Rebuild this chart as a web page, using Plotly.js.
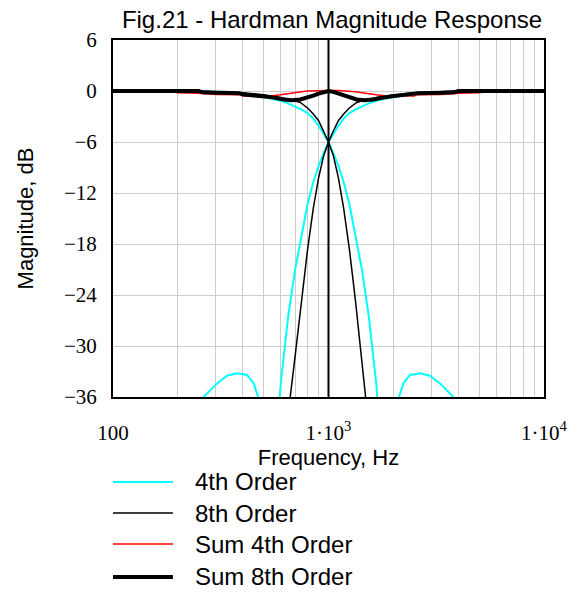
<!DOCTYPE html>
<html>
<head>
<meta charset="utf-8">
<script src="https://cdn.plot.ly/plotly-3.0.1.min.js"></script>
<style>html,body{margin:0;padding:0;background:#fff;}#chart{width:577px;height:592px;}</style>
</head>
<body>
<div id="chart"></div>
<script>
// ---- Data ----
const seriesNames = ["4th Order", "8th Order", "Sum 4th Order", "Sum 8th Order"];

// 4th order low-pass (cyan)
const lp4Freq = [100, 200, 300, 400, 500, 600, 650, 700, 750, 800, 850, 900, 950, 1000, 1053, 1111, 1176, 1250, 1333, 1429, 1538, 1667, 1786, 1923, 2050, 2125, 2224, 2389, 2659, 2959, 3291, 3600, 3796, 4000, 4500, 10000];
const lp4Db   = [0, 0, -0.15, -0.35, -0.7, -1.15, -1.45, -1.8, -2.2, -2.6, -3.25, -4.1, -5.1, -6.0, -7.3, -8.8, -10.7, -13.3, -17.0, -21.0, -26.5, -34.5, -45, -50, -42, -36, -34.4, -33.4, -33.2, -33.5, -34.4, -35.4, -36, -40, -50, -60];
// 4th order high-pass (cyan)
const hp4Freq = [100, 222, 250, 263, 278, 304, 338, 376, 419, 450, 471, 488, 520, 560, 600, 650, 700, 750, 800, 850, 900, 950, 1000, 1053, 1111, 1176, 1250, 1333, 1429, 1538, 1667, 2000, 2500, 3333, 5000, 10000];
const hp4Db   = [-60, -50, -40, -36, -35.4, -34.4, -33.5, -33.2, -33.4, -34.4, -36, -42, -50, -45, -34.5, -26.5, -21.0, -17.0, -13.3, -10.7, -8.8, -7.3, -6.0, -5.1, -4.1, -3.25, -2.6, -2.2, -1.8, -1.45, -1.15, -0.7, -0.35, -0.15, 0, 0];

// 8th order low-pass (black thin)
const lp8Freq = [100, 250, 300, 400, 500, 600, 680, 740, 800, 850, 900, 950, 1000, 1053, 1111, 1176, 1250, 1333, 1429, 1538, 1667, 2000, 10000];
const lp8Db   = [0, 0, -0.1, -0.2, -0.45, -0.75, -1.05, -1.35, -2.0, -2.7, -3.5, -4.7, -6.0, -7.6, -10.2, -13.8, -18.6, -24.6, -31.2, -38.0, -48, -60, -80];
// 8th order high-pass (black thin)
const hp8Freq = [100, 500, 600, 650, 700, 750, 800, 850, 900, 950, 1000, 1053, 1111, 1176, 1250, 1351, 1471, 1667, 2000, 2500, 3333, 4000, 10000];
const hp8Db   = [-80, -60, -48, -38.0, -31.2, -24.6, -18.6, -13.8, -10.2, -7.6, -6.0, -4.7, -3.5, -2.7, -2.0, -1.35, -1.05, -0.75, -0.45, -0.2, -0.1, 0, 0];

// Sum of 4th order (red)
const sum4Freq = [100, 180, 200, 250, 300, 390, 400, 480, 550, 600, 650, 700, 750, 800, 900, 1000, 1111, 1250, 1333, 1429, 1538, 1667, 1818, 2083, 2500, 2564, 3333, 4000, 5000, 5556, 10000];
const sum4Db   = [0, 0, -0.2, -0.25, -0.4, -0.45, -0.6, -0.6, -0.55, -0.45, -0.35, -0.2, -0.1, 0, 0.05, 0.05, 0.05, 0, -0.1, -0.2, -0.35, -0.45, -0.55, -0.6, -0.6, -0.45, -0.4, -0.25, -0.2, 0, 0];

// Sum of 8th order (black thick)
const sum8Freq = [100, 250, 260, 300, 385, 400, 480, 550, 620, 680, 740, 800, 850, 900, 950, 1000, 1053, 1111, 1176, 1250, 1351, 1471, 1613, 1818, 2083, 2500, 2597, 3333, 3846, 4000, 10000];
const sum8Db   = [0, 0, -0.15, -0.2, -0.25, -0.4, -0.55, -0.75, -1.0, -1.1, -1.0, -0.8, -0.55, -0.3, -0.1, 0, -0.1, -0.3, -0.55, -0.8, -1.0, -1.1, -1.0, -0.75, -0.55, -0.4, -0.25, -0.2, -0.15, 0, 0];

const markerFreq = 1000;

// Axis ticks
const xTickVals = [100, 1000, 10000];
const xTickText = ["100", "1·10<sup>3</sup>", "1·10<sup>4</sup>"];
const xMinorVals = [200, 300, 400, 500, 600, 700, 800, 900, 2000, 3000, 4000, 5000, 6000, 7000, 8000, 9000];
const yTickVals = [6, 0, -6, -12, -18, -24, -30, -36];
const yTickText = ["6", "0", "−6", "−12", "−18", "−24", "−30", "−36"];

// ---- Styles ----
const cyan = "#00ffff", red = "#ff0000", black = "#000000";
const styles = [
  {color: cyan, width: 2},
  {color: black, width: 1.5},
  {color: red, width: 1.5},
  {color: black, width: 4}
];

const traces = [
  {x: lp4Freq, y: lp4Db, line: styles[0]},
  {x: hp4Freq, y: hp4Db, line: styles[0]},
  {x: lp8Freq, y: lp8Db, line: styles[1]},
  {x: hp8Freq, y: hp8Db, line: styles[1]},
  {x: sum4Freq, y: sum4Db, line: styles[2]},
  {x: sum8Freq, y: sum8Db, line: styles[3]}
].map(t => Object.assign(t, {type: "scatter", mode: "lines", showlegend: false, hoverinfo: "skip", cliponaxis: true}));

// Custom legend (layout elements in paper coordinates)
const legendRowsY = [-0.238, -0.325, -0.412, -0.504];
const shapes = [
  {type: "line", xref: "x", yref: "paper", x0: markerFreq, x1: markerFreq, y0: 0, y1: 1,
   line: {color: black, width: 2}, layer: "above"}
];
const annotations = [];
seriesNames.forEach((name, i) => {
  shapes.push({type: "line", xref: "paper", yref: "paper", x0: 0, x1: 0.139,
    y0: legendRowsY[i], y1: legendRowsY[i], line: styles[i]});
  annotations.push({xref: "paper", yref: "paper", x: 0.186, y: legendRowsY[i], xanchor: "left", yanchor: "middle",
    text: name, showarrow: false, font: {family: "Liberation Sans, Arial, sans-serif", size: 24, color: black}});
});

const layout = {
  width: 577, height: 592,
  margin: {l: 113, r: 33, t: 40, b: 195},
  paper_bgcolor: "#ffffff", plot_bgcolor: "#ffffff",
  title: {text: "Fig.21 - Hardman Magnitude Response", x: 332/577, xanchor: "center", y: 1 - 20/592, yanchor: "middle",
          font: {family: "Liberation Sans, Arial, sans-serif", size: 24, color: black}},
  xaxis: {
    type: "log", range: [2, 4], tickmode: "array", tickvals: xTickVals, ticktext: xTickText, tickangle: 0,
    showgrid: true, gridcolor: "#cccccc", gridwidth: 1, zeroline: false,
    minor: {tickmode: "array", tickvals: xMinorVals, showgrid: true, gridcolor: "#cccccc", gridwidth: 1, ticks: ""},
    showline: true, linecolor: black, linewidth: 2, mirror: true, ticks: "",
    tickfont: {family: "Liberation Serif, Times New Roman, serif", size: 21, color: black},
    ticklabelstandoff: 16,
    title: {text: "Frequency, Hz", standoff: 0, font: {family: "Liberation Sans, Arial, sans-serif", size: 22, color: black}},
    fixedrange: true
  },
  yaxis: {
    range: [-36, 6], tickmode: "array", tickvals: yTickVals, ticktext: yTickText,
    showgrid: true, gridcolor: "#cccccc", gridwidth: 1, zeroline: false,
    showline: true, linecolor: black, linewidth: 2, mirror: true, ticks: "",
    tickfont: {family: "Liberation Serif, Times New Roman, serif", size: 21, color: black},
    ticklabelstandoff: 10,
    title: {text: "Magnitude, dB", standoff: 24, font: {family: "Liberation Sans, Arial, sans-serif", size: 22, color: black}},
    fixedrange: true
  },
  shapes: shapes,
  annotations: annotations,
  showlegend: false
};

Plotly.newPlot("chart", traces, layout, {staticPlot: true, displayModeBar: false});
</script>
</body>
</html>
